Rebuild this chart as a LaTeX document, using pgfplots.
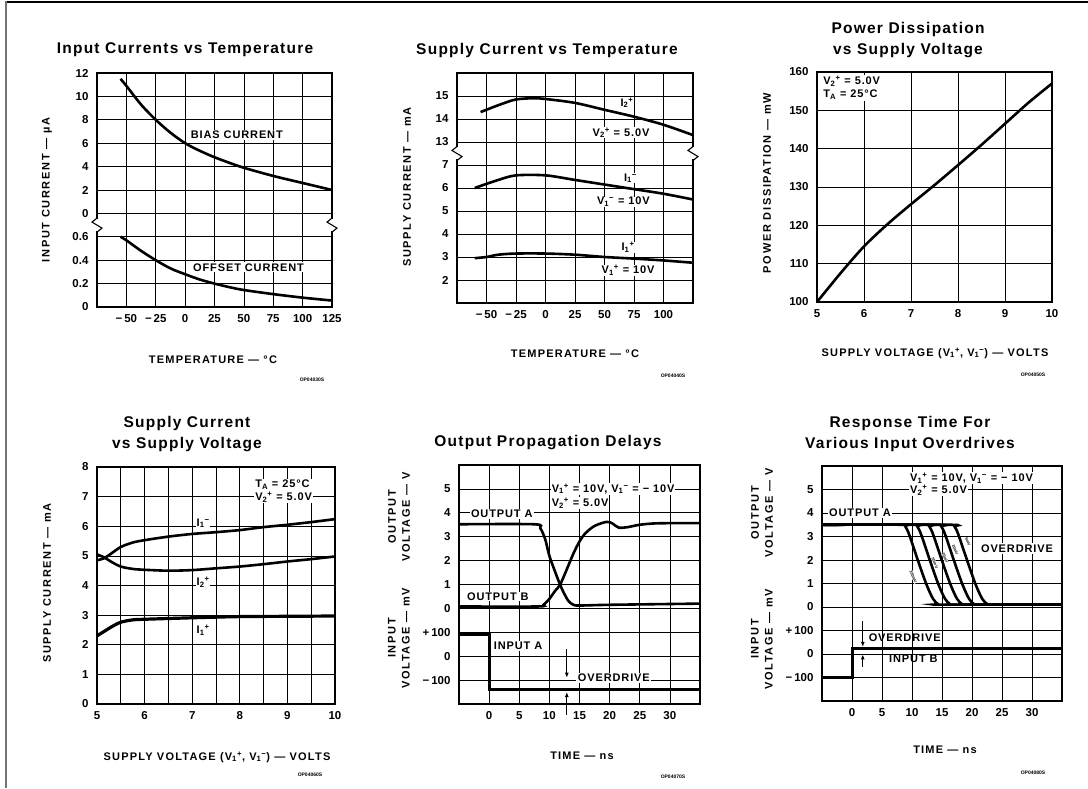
\documentclass[border=0pt]{standalone}
\usepackage{fontspec}
\setmainfont{Liberation Sans}
\usepackage{pgfplots}
\pgfplotsset{compat=1.18}
\usetikzlibrary{arrows.meta}

\newcommand{\lo}[1]{\textsubscript{#1}}
\newcommand{\hi}[1]{\textsuperscript{#1}}
\newcommand{\ttl}{\fontsize{15.5}{21}\selectfont\bfseries\addfontfeatures{LetterSpace=8}}
\newcommand{\lab}{\fontsize{11}{13}\selectfont\bfseries\addfontfeatures{LetterSpace=8}}
\newcommand{\xl}{\fontsize{11}{13}\selectfont\bfseries\addfontfeatures{LetterSpace=11}}
\newcommand{\yl}{\fontsize{11}{14}\selectfont\bfseries\addfontfeatures{LetterSpace=15}}
\newcommand{\cod}{\fontsize{5}{6}\selectfont\bfseries}
\newcommand{\odl}{\fontsize{4}{4}\selectfont\bfseries}

\pgfplotsset{panel/.style={scale only axis, anchor=south west, clip=false,
  axis line style={line width=2pt},
  grid=major, major grid style={line width=0.7pt,black},
  minor grid style={line width=0.7pt,black},
  tick style={draw=none},
  tick label style={font=\fontsize{11.5}{13}\selectfont\bfseries},
  /pgf/number format/assume math mode=true,
  xticklabel style={yshift=-4pt}, yticklabel style={xshift=-5pt}},
  crv/.style={line width=2.6pt,black,no markers}}

% break marker on a box edge
\newcommand{\brk}[2]{%
  \fill[white] ([xshift=-1.5pt,yshift=-6pt]axis cs:#1,#2) rectangle ([xshift=1.5pt,yshift=6pt]axis cs:#1,#2);
  \draw[line width=1.1pt] ([yshift=7pt]axis cs:#1,#2) -- ++(-5pt,-4pt) -- ++(10pt,-6pt) -- ++(-5pt,-4pt);}

\begin{document}
\begin{tikzpicture}[x=1pt,y=1pt]
\path[use as bounding box] (0,0) rectangle (1088,788);
\draw[line width=2pt] (5,785.5) -- (1088,785.5);
\draw[line width=2pt,black!55] (6,786.5) -- (6,0);

% ---------- 1: input currents vs temperature
\begin{axis}[panel, at={(97pt,481pt)}, width=235pt, height=234pt,
  xmin=-75, xmax=125, ymin=0, ymax=10,
  xtick={-50,-25,0,25,50,75,100,125}, xticklabels={−\,50,−\,25,0,25,50,75,100,125},
  ytick={0,...,10}, yticklabels={0,0.2,0.4,0.6,0,2,4,6,8,10,12}]
\addplot[crv, smooth, y filter/.expression={4+y/2}] coordinates {
  (-55,11.5) (-50,10.9) (-37.5,9.3) (-25,8.0) (-12.5,6.9) (0,6.0) (12.5,5.35)
  (25,4.8) (37.5,4.33) (50,3.9) (75,3.2) (100,2.6) (125,2.0)};
\addplot[crv, smooth, y filter/.expression={5*y}] coordinates {
  (-55,0.6) (-50,0.57) (-37.5,0.48) (-25,0.4) (-12.5,0.33) (0,0.28) (12.5,0.235)
  (25,0.2) (37.5,0.17) (50,0.145) (75,0.11) (100,0.08) (125,0.055)};
\node[fill=white,inner sep=1pt,font=\lab] at (axis cs:44,7.35) {BIAS CURRENT};
\node[fill=white,inner sep=1pt,font=\lab] at (axis cs:54,1.7) {OFFSET CURRENT};
\brk{-75}{3.5}\brk{125}{3.5}
\end{axis}
\node[font=\ttl] at (185,738) {Input Currents vs Temperature};
\node[font=\yl,rotate=90] at (47,598) {INPUT CURRENT — µA};
\node[font=\xl] at (213,428) {TEMPERATURE — °C};
\node[font=\cod] at (312,408) {OP04030S};

% ---------- 2: supply current vs temperature
\begin{axis}[panel, at={(457pt,485pt)}, width=236pt, height=230pt,
  xmin=-75, xmax=125, ymin=0, ymax=10,
  xtick={-50,-25,0,25,50,75,100}, xticklabels={−\,50,−\,25,0,25,50,75,100},
  ytick={1,...,9}, yticklabels={2,3,4,5,6,7,13,14,15}]
\addplot[crv, smooth, y filter/.expression={y-6}] coordinates {
  (-55,14.3) (-40,14.6) (-25,14.85) (-10,14.9) (0,14.87) (25,14.7) (50,14.4)
  (75,14.1) (100,13.75) (125,13.3)};
\addplot[crv, smooth, y filter/.expression={y-1}] coordinates {
  (-60,6.0) (-40,6.35) (-25,6.55) (0,6.55) (25,6.35) (50,6.15) (75,5.95)
  (100,5.75) (125,5.5)};
\addplot[crv, smooth, y filter/.expression={y-1}] coordinates {
  (-60,2.95) (-50,3.0) (-40,3.1) (-25,3.15) (0,3.15) (25,3.1) (50,3.0)
  (75,2.93) (100,2.85) (125,2.75)};
\node[fill=white,inner sep=0.5pt,font=\lab] at (axis cs:69,8.7) {I\lo{2}\hi{+}};
\node[fill=white,inner sep=0.5pt,font=\lab] at (axis cs:64,7.4) {V\lo{2}\hi{+} = 5.0V};
\node[fill=white,inner sep=0.5pt,font=\lab] at (axis cs:72,5.43) {I\lo{1}\hi{−}};
\node[fill=white,inner sep=0.5pt,font=\lab] at (axis cs:66,4.4) {V\lo{1}\hi{−} = 10V};
\node[fill=white,inner sep=0.5pt,font=\lab] at (axis cs:70,2.43) {I\lo{1}\hi{+}};
\node[fill=white,inner sep=0.5pt,font=\lab] at (axis cs:70,1.43) {V\lo{1}\hi{+} = 10V};
\brk{-75}{6.5}\brk{125}{6.5}
\end{axis}
\node[font=\ttl] at (547,738) {Supply Current vs Temperature};
\node[font=\yl,rotate=90] at (407,601) {SUPPLY CURRENT — mA};
\node[font=\xl] at (575,434) {TEMPERATURE — °C};
\node[font=\cod] at (673,412) {OP04040S};

% ---------- 3: power dissipation vs supply voltage
\begin{axis}[panel, at={(817pt,486pt)}, width=235pt, height=230pt,
  xmin=5, xmax=10, ymin=100, ymax=160,
  xtick={5,...,10}, ytick={100,110,...,160}]
\addplot[crv, smooth] coordinates {
  (5,100) (5.5,107.5) (6,114.5) (6.5,120.3) (7,125.5) (7.5,130.5) (8,135.7)
  (8.5,141) (9,146.5) (9.5,152) (10,157)};
\node[fill=white,inner sep=1.5pt,font=\lab,anchor=north west,align=left]
  at (axis cs:5.1,159.3) {V\lo{2}\hi{+} = 5.0V\\T\lo{A} = 25°C};
\end{axis}
\node[font=\ttl,align=center] at (908,748) {Power Dissipation\\vs Supply Voltage};
\node[font=\yl,rotate=90] at (767,605) {POWER DISSIPATION — mW};
\node[font=\xl] at (935,435) {SUPPLY VOLTAGE (V\lo{1}\hi{+}, V\lo{1}\hi{−}) — VOLTS};
\node[font=\cod] at (1033,413) {OP04050S};

% ---------- 4: supply current vs supply voltage
\begin{axis}[panel, at={(97pt,84pt)}, width=238pt, height=237pt,
  xmin=5, xmax=10, ymin=0, ymax=8, grid=both,
  xtick={5,...,10}, minor xtick={5.5,6.5,7.5,8.5,9.5}, ytick={0,...,8}]
\addplot[crv, smooth] coordinates {
  (5,4.85) (5.15,4.92) (5.3,5.08) (5.5,5.3) (5.75,5.45) (6,5.53) (6.5,5.65)
  (7,5.74) (7.5,5.8) (8,5.87) (8.5,5.97) (9,6.05) (9.5,6.14) (10,6.24)};
\addplot[crv, smooth] coordinates {
  (5,5.05) (5.15,4.95) (5.3,4.8) (5.5,4.64) (5.75,4.56) (6,4.53) (6.5,4.5)
  (7,4.52) (7.5,4.58) (8,4.64) (8.5,4.72) (9,4.81) (9.5,4.89) (10,4.98)};
\addplot[crv, smooth, line width=3.2pt] coordinates {
  (5,2.3) (5.15,2.45) (5.3,2.6) (5.5,2.76) (5.75,2.84) (6,2.86) (7,2.91)
  (8,2.95) (9,2.96) (10,2.97)};
\node[fill=white,inner sep=0.5pt,font=\lab] at (axis cs:7.23,6.1) {I\lo{1}\hi{−}};
\node[fill=white,inner sep=0.5pt,font=\lab] at (axis cs:7.23,4.1) {I\lo{2}\hi{+}};
\node[fill=white,inner sep=0.5pt,font=\lab] at (axis cs:7.23,2.5) {I\lo{1}\hi{+}};
\node[fill=white,inner sep=1pt,font=\lab,anchor=north west,align=left]
  at (axis cs:8.3,7.6) {T\lo{A} = 25°C\\V\lo{2}\hi{+} = 5.0V};
\end{axis}
\node[font=\ttl,align=center] at (187,354) {Supply Current\\vs Supply Voltage};
\node[font=\yl,rotate=90] at (47,205) {SUPPLY CURRENT — mA};
\node[font=\xl] at (217,31) {SUPPLY VOLTAGE (V\lo{1}\hi{+}, V\lo{1}\hi{−}) — VOLTS};
\node[font=\cod] at (310,13) {OP04060S};

% ---------- 5: output propagation delays
\begin{axis}[panel, at={(459pt,84pt)}, width=241pt, height=239pt,
  xmin=-5, xmax=35, ymin=0, ymax=10,
  xtick={0,5,...,30}, ytick={1,...,9},
  yticklabels={−\,100,0,+\,100,0,1,2,3,4,5}]
\addplot[crv, smooth, y filter/.expression={y+4}] coordinates {
  (-5,3.52) (7.5,3.52) (8.5,3.35) (9.3,2.9) (10,2.2) (11,1.5) (11.8,0.98)
  (12.5,0.6) (13.2,0.3) (14,0.15) (15,0.12) (20,0.15) (35,0.2)};
\addplot[crv, smooth, y filter/.expression={y+4}] coordinates {
  (-5,0.08) (8,0.08) (9,0.15) (10,0.4) (11,0.75) (11.8,1.0) (13,1.7) (14,2.3)
  (15,2.8) (16,3.15) (17.5,3.45) (19.5,3.62) (20.5,3.55) (21.5,3.38) (23,3.4)
  (25,3.5) (28,3.56) (35,3.57)};
\addplot[crv, line width=3pt, y filter/.expression={2+y/100}] coordinates {
  (-5,90) (0,90) (0,-140) (35,-140)};
\node[fill=white,inner sep=1pt,font=\lab,anchor=west] at (axis cs:-3.2,7.95) {OUTPUT A};
\node[fill=white,inner sep=1pt,font=\lab,anchor=west] at (axis cs:-3.85,4.5) {OUTPUT B};
\node[fill=white,inner sep=1pt,font=\lab,anchor=west] at (axis cs:0.6,2.43) {INPUT A};
\node[fill=white,inner sep=1.5pt,font=\lab] at (axis cs:20.7,1.09) {OVERDRIVE};
\node[fill=white,inner sep=1pt,font=\lab,anchor=west] at (axis cs:10.2,9.0) {V\lo{1}\hi{+} = 10V, V\lo{1}\hi{−} = − 10V};
\node[fill=white,inner sep=1pt,font=\lab,anchor=west] at (axis cs:10.2,8.41) {V\lo{2}\hi{+} = 5.0V};
\draw[-{Latex[length=5pt,width=4pt]},line width=1pt] (axis cs:12.9,2.3) -- (axis cs:12.9,1.1);
\draw[-{Latex[length=5pt,width=4pt]},line width=1pt] (axis cs:12.9,-0.45) -- (axis cs:12.9,0.5);
\end{axis}
\node[font=\ttl] at (548,345) {Output Propagation Delays};
\node[font=\yl,rotate=90,align=center] at (399,271) {OUTPUT\\VOLTAGE — V};
\node[font=\yl,rotate=90,align=center] at (399,150) {INPUT\\VOLTAGE — mV};
\node[font=\xl] at (582,32) {TIME — ns};
\node[font=\cod] at (673,11) {OP04070S};

% ---------- 6: response time for various input overdrives
\begin{axis}[panel, at={(822pt,87pt)}, width=240pt, height=235pt,
  xmin=-5, xmax=35, ymin=0, ymax=10,
  xtick={0,5,...,30}, ytick={1,...,9},
  yticklabels={−\,100,0,+\,100,0,1,2,3,4,5}]
\addplot[crv, smooth, y filter/.expression={y+4}] coordinates {
  (-5,3.5) (8.2,3.5) (8.9,3.42) (9.5,3.1) (10.5,2.35) (11.5,1.6) (12.5,0.9)
  (13.5,0.35) (14.3,0.13) (15,0.1) (35,0.1)};
\addplot[crv, smooth, y filter/.expression={y+4}] coordinates {
  (-5,3.5) (10.2,3.5) (10.9,3.42) (11.5,3.1) (12.5,2.35) (13.5,1.6) (14.5,0.9)
  (15.5,0.35) (16.3,0.13) (17,0.1) (35,0.1)};
\addplot[crv, smooth, y filter/.expression={y+4}] coordinates {
  (-5,3.5) (12.2,3.5) (12.9,3.42) (13.5,3.1) (14.5,2.35) (15.5,1.6) (16.5,0.9)
  (17.5,0.35) (18.3,0.13) (19,0.1) (35,0.1)};
\addplot[crv, smooth, y filter/.expression={y+4}] coordinates {
  (-5,3.5) (14.2,3.5) (14.9,3.42) (15.5,3.1) (16.5,2.35) (17.5,1.6) (18.5,0.9)
  (19.5,0.35) (20.3,0.13) (21,0.1) (35,0.1)};
\addplot[crv, smooth, y filter/.expression={y+4}] coordinates {
  (-5,3.5) (16.2,3.5) (17.1,3.42) (17.7,3.1) (18.7,2.35) (19.7,1.6) (20.7,0.9)
  (21.7,0.35) (22.5,0.13) (23.2,0.1) (35,0.1)};
\addplot[crv, line width=3pt, y filter/.expression={2+y/100}] coordinates {
  (-5,-100) (0,-100) (0,25) (35,25)};
\node[font=\odl,rotate=-67,inner sep=0.3pt,fill=white] at (axis cs:10.2,5.28) {100mV};
\node[font=\odl,rotate=-67,inner sep=0.3pt,fill=white] at (axis cs:13.8,5.87) {50mV};
\node[font=\odl,rotate=-67,inner sep=0.3pt,fill=white] at (axis cs:15.5,6.09) {20mV};
\node[font=\odl,rotate=-67,inner sep=0.3pt,fill=white] at (axis cs:17.2,6.43) {10mV};
\node[font=\odl,rotate=-67,inner sep=0.3pt,fill=white] at (axis cs:19.3,6.77) {5mV};
\node[fill=white,inner sep=1pt,font=\lab,anchor=west] at (axis cs:-4.0,8.0) {OUTPUT A};
\node[fill=white,inner sep=1.5pt,font=\lab] at (axis cs:27.5,6.5) {OVERDRIVE};
\node[fill=white,inner sep=1pt,font=\lab,anchor=west] at (axis cs:9.5,9.49) {V\lo{1}\hi{+} = 10V, V\lo{1}\hi{−} = − 10V};
\node[fill=white,inner sep=1pt,font=\lab,anchor=west] at (axis cs:9.5,8.98) {V\lo{2}\hi{+} = 5.0V};
\node[inner sep=1pt,font=\lab,anchor=west] at (axis cs:2.6,2.7) {OVERDRIVE};
\node[inner sep=1pt,font=\lab,anchor=west] at (axis cs:6.0,1.8) {INPUT B};
\draw[-{Latex[length=5pt,width=4pt]},line width=1pt] (axis cs:1.8,3.4) -- (axis cs:1.8,2.3);
\draw[-{Latex[length=5pt,width=4pt]},line width=1pt] (axis cs:1.8,1.45) -- (axis cs:1.8,1.98);
\end{axis}
\node[font=\ttl,align=center] at (910,354) {Response Time For\\Various Input Overdrives};
\node[font=\yl,rotate=90,align=center] at (762,275) {OUTPUT\\VOLTAGE — V};
\node[font=\yl,rotate=90,align=center] at (762,149) {INPUT\\VOLTAGE — mV};
\node[font=\xl] at (945,38) {TIME — ns};
\node[font=\cod] at (1033,15) {OP04080S};
\end{tikzpicture}
\end{document}
